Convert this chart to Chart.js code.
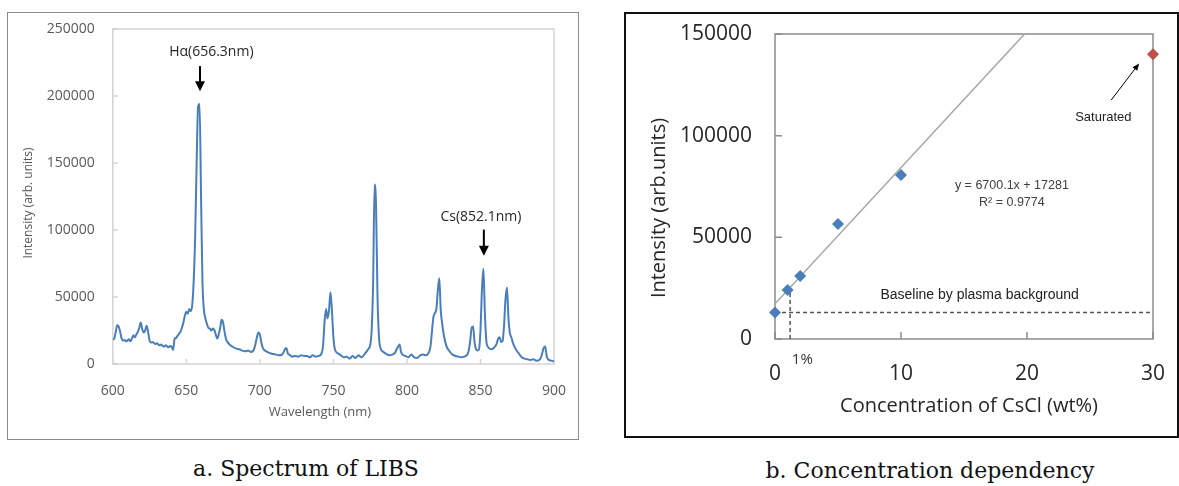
<!DOCTYPE html>
<html>
<head>
<meta charset="utf-8">
<script src="https://cdn.jsdelivr.net/npm/chart.js@4.4.0/dist/chart.umd.min.js"></script>
<style>
  html, body { margin: 0; padding: 0; background: #fff; }
  body { width: 1179px; height: 486px; position: relative; overflow: hidden; }
  .frame { position: absolute; box-sizing: border-box; }
  #frameA { left: 7px; top: 12px; width: 572px; height: 428px; border: 1px solid #8a8a8a; }
  #frameB { left: 624px; top: 12px; width: 555px; height: 426px; border: 2px solid #111; }
  canvas { position: absolute; top: 0; }
  #spec { left: 0; }
  #conc { left: 600px; }
  .caption { position: absolute; font-family: "DejaVu Serif", serif; font-size: 22px; line-height: 22px; color: #111; white-space: nowrap; transform: translateX(-50%); }
</style>
</head>
<body>
<div class="frame" id="frameA"></div>
<div class="frame" id="frameB"></div>
<canvas id="spec" width="590" height="450"></canvas>
<canvas id="conc" width="579" height="450"></canvas>
<div class="caption" style="left:306px; top:458px">a. Spectrum of LIBS</div>
<div class="caption" style="left:930px; top:460px">b. Concentration dependency</div>
<script>
// a. LIBS spectrum
const wavelength = [
  600, 601, 602, 603, 604, 605, 606, 607, 608, 609,
  610, 611, 612, 613, 614, 615, 616, 617, 618, 619,
  620, 621, 622, 623, 624, 625, 626, 627, 628, 629,
  630, 631, 632, 633, 634, 635, 636, 637, 638, 639,
  640, 641, 642, 643, 644, 645, 646, 647, 648, 649,
  650, 651, 652, 653, 654, 655, 656, 657, 658, 659,
  660, 661, 662, 663, 664, 665, 666, 667, 668, 669,
  670, 671, 672, 673, 674, 675, 676, 677, 678, 679,
  680, 682, 684, 686, 688, 690, 692, 694, 696, 697,
  698, 699, 700, 701, 702, 703, 705, 707, 709, 711,
  713, 715, 716, 717, 718, 719, 720, 722, 724, 726,
  728, 730, 732, 734, 736, 738, 740, 742, 743, 744,
  745, 746, 747, 748, 749, 750, 751, 753, 755, 757,
  759, 761, 763, 765, 767, 769, 771, 772, 773, 774,
  775, 776, 777, 778, 779, 780, 781, 782, 784, 786,
  788, 790, 792, 793, 794, 795, 796, 797, 799, 801,
  803, 805, 807, 809, 811, 813, 815, 816, 817, 818,
  819, 820, 821, 822, 823, 824, 825, 827, 829, 831,
  833, 835, 837, 839, 841, 842, 843, 844, 845, 846,
  847, 848, 849, 850, 851, 852, 853, 854, 855, 857,
  859, 861, 862, 863, 864, 865, 866, 867, 868, 869,
  870, 871, 872, 874, 876, 878, 880, 882, 884, 886,
  888, 890, 891, 892, 893, 894, 895, 896, 898, 900
]
const intensity = [
  18500, 19000, 24000, 29000, 28000, 24000, 19000, 17500, 18000, 17000,
  17500, 18500, 17000, 19000, 21500, 20000, 22000, 24000, 27000, 31000,
  26000, 23500, 25000, 28500, 24000, 17500, 16000, 16500, 15500, 15000,
  15500, 14500, 14000, 14500, 13500, 13000, 14000, 13000, 12500, 13500,
  13000, 10500, 18500, 19500, 21000, 22500, 24000, 27000, 31000, 36000,
  39000, 37500, 41000, 39500, 44000, 62000, 95000, 150000, 192000, 194000,
  125000, 60000, 40000, 34000, 30000, 27000, 26500, 25000, 26500, 25500,
  22000, 19000, 22000, 27000, 33000, 31000, 24000, 18500, 16500, 15000,
  14000, 12500, 11500, 11000, 10000, 9500, 10000, 9000, 11000, 15000,
  20000, 23500, 22000, 16000, 12000, 10500, 9000, 8000, 7500, 7000,
  6500, 7000, 8500, 11000, 12000, 8000, 7000, 5500, 6000, 5500,
  6500, 6000, 6000, 5000, 6500, 5500, 6000, 8000, 14000, 32000,
  41000, 34000, 40000, 53500, 40000, 20000, 11000, 8000, 6500, 5000,
  5500, 4000, 6000, 4500, 6500, 5000, 7000, 8500, 10000, 11500,
  14000, 25000, 60000, 134000, 118000, 50000, 20000, 12000, 9000, 7500,
  6500, 7000, 8500, 11000, 13000, 14500, 9000, 7000, 6000, 5000,
  7000, 5000, 4500, 6500, 7000, 6500, 9000, 13000, 24000, 35000,
  38000, 41000, 55000, 64000, 40000, 30000, 22000, 13000, 9500, 7000,
  6000, 5500, 5000, 5500, 7000, 10000, 17000, 27000, 28000, 16000,
  11000, 10000, 11000, 25000, 55000, 71000, 38000, 17000, 13000, 11000,
  12000, 15000, 19000, 20000, 16500, 17000, 28000, 48000, 57000, 35000,
  23000, 20000, 16000, 11000, 8000, 5000, 4000, 3500, 3000, 3500,
  2500, 3000, 4500, 8000, 12000, 13000, 6000, 3500, 2500, 2000
]
const specXTicks = [600, 650, 700, 750, 800, 850, 900]
const specYTicks = [0, 50000, 100000, 150000, 200000, 250000]

// b. concentration dependency
const concentration = [0, 1, 2, 5, 10]
const concIntensity = [13000, 24100, 31000, 56600, 80700]
const saturatedConc = [30]
const saturatedIntensity = [140000]
const concXTicks = [0, 10, 20, 30]
const concYTicks = [0, 50000, 100000, 150000]
const fitSlope = 6700.1
const fitIntercept = 17281
const fitR2 = 0.9774
const baselineLevel = 13000
const onePercentX = 1.2 // guide sits a little right of the 1% point in the original

const sans = '"Open Sans", "Noto Sans", sans-serif'
const arial = '"Liberation Sans", Arial, sans-serif'
Chart.defaults.font.family = sans
Chart.defaults.animation = false

function text(ctx, str, x, y, font, color, rot) {
  ctx.save()
  ctx.translate(x, y)
  if (rot) ctx.rotate(rot)
  ctx.font = font
  ctx.fillStyle = color
  ctx.textAlign = 'center'
  ctx.textBaseline = 'middle'
  ctx.fillText(str, 0, 0)
  ctx.restore()
}

function arrow(ctx, x1, y1, x2, y2, lw, len, half) {
  const ang = Math.atan2(y2 - y1, x2 - x1)
  ctx.save()
  ctx.strokeStyle = '#000'
  ctx.fillStyle = '#000'
  ctx.lineWidth = lw
  ctx.beginPath()
  ctx.moveTo(x1, y1)
  ctx.lineTo(x2 - Math.cos(ang) * len * 0.8, y2 - Math.sin(ang) * len * 0.8)
  ctx.stroke()
  ctx.translate(x2, y2)
  ctx.rotate(ang)
  ctx.beginPath()
  ctx.moveTo(0, 0)
  ctx.lineTo(-len, -half)
  ctx.lineTo(-len, half)
  ctx.closePath()
  ctx.fill()
  ctx.restore()
}

// plot-area box with short ticks pointing inwards
function frameTicks(color, width, len) {
  return {
    id: 'frameTicks',
    beforeDatasetsDraw(chart) {
      const {ctx, chartArea: a, scales} = chart
      ctx.save()
      ctx.strokeStyle = color
      ctx.lineWidth = width
      ctx.strokeRect(a.left, a.top, a.right - a.left, a.bottom - a.top)
      ctx.beginPath()
      scales.x.ticks.forEach(t => {
        const px = scales.x.getPixelForValue(t.value)
        ctx.moveTo(px, a.bottom)
        ctx.lineTo(px, a.bottom - len)
      })
      scales.y.ticks.forEach(t => {
        const py = scales.y.getPixelForValue(t.value)
        ctx.moveTo(a.left, py)
        ctx.lineTo(a.left + len, py)
      })
      ctx.stroke()
      ctx.restore()
    }
  }
}

const specNotes = {
  id: 'specNotes',
  afterDatasetsDraw(chart) {
    const {ctx} = chart
    const {x, y} = chart.scales
    text(ctx, 'Hα(656.3nm)', x.getPixelForValue(667), y.getPixelForValue(232800), '14px ' + sans, '#262626')
    arrow(ctx, x.getPixelForValue(659.3), y.getPixelForValue(222300), x.getPixelForValue(659.3), y.getPixelForValue(203600), 2, 10, 5)
    text(ctx, 'Cs(852.1nm)', x.getPixelForValue(850.3), y.getPixelForValue(110000), '14px ' + sans, '#262626')
    arrow(ctx, x.getPixelForValue(852.3), y.getPixelForValue(100300), x.getPixelForValue(852.3), y.getPixelForValue(80800), 2, 10, 5)
    text(ctx, 'Intensity (arb. units)', 29, 203, '12px ' + sans, '#595959', -Math.PI / 2)
    text(ctx, 'Wavelength (nm)', 320, 412, '13px ' + sans, '#595959')
  }
}

const concNotes = {
  id: 'concNotes',
  afterDatasetsDraw(chart) {
    const {ctx} = chart
    const {x, y} = chart.scales
    text(ctx, 'Saturated', x.getPixelForValue(26.06), y.getPixelForValue(109200), '13px ' + arial, '#222')
    arrow(ctx, x.getPixelForValue(26.68), y.getPixelForValue(117500), x.getPixelForValue(28.9), y.getPixelForValue(135500), 1, 7, 3)
    text(ctx, 'y = ' + fitSlope + 'x + ' + fitIntercept, x.getPixelForValue(18.8), y.getPixelForValue(75700), '12.5px ' + arial, '#404040')
    text(ctx, 'R² = ' + fitR2, x.getPixelForValue(18.8), y.getPixelForValue(66900), '12.5px ' + arial, '#404040')
    text(ctx, 'Baseline by plasma background', x.getPixelForValue(16.24), y.getPixelForValue(21600), '14px ' + arial, '#222')
    text(ctx, '1%', x.getPixelForValue(2.17), y.getPixelForValue(-10300), '15px ' + sans, '#333')
    text(ctx, 'Intensity (arb.units)', 59, 208, '20px ' + sans, '#262626', -Math.PI / 2)
    text(ctx, 'Concentration of CsCl (wt%)', 369, 406, '20px ' + sans, '#262626')
  }
}

function axis(min, max, ticks, size, pad, color, fit) {
  return {
    type: 'linear', min: min, max: max,
    afterBuildTicks: s => { s.ticks = ticks.map(v => ({value: v})) },
    afterFit: fit,
    grid: {display: false},
    border: {display: false},
    ticks: {padding: pad, color: color, font: {size: size}, autoSkip: false, maxRotation: 0, callback: v => String(v)}
  }
}

new Chart(document.getElementById('spec'), {
  type: 'scatter',
  data: {
    datasets: [{
      data: wavelength.map((w, i) => ({x: w, y: intensity[i]})),
      showLine: true,
      borderColor: '#4a7ebb',
      borderWidth: 2,
      pointRadius: 0,
      cubicInterpolationMode: 'monotone'
    }]
  },
  options: {
    responsive: false,
    layout: {padding: {left: 12.8, right: 36, top: 29, bottom: 26}},
    plugins: {legend: {display: false}, tooltip: {enabled: false}},
    scales: {
      x: axis(600, 900, specXTicks, 14, 11, '#595959', s => { s.height = 60 }),
      y: axis(0, 250000, specYTicks, 14, 10, '#595959', s => { s.width = 100 })
    }
  },
  plugins: [frameTicks('#d4d4d4', 1.5, 5), specNotes]
})

new Chart(document.getElementById('conc'), {
  type: 'scatter',
  data: {
    datasets: [
      {
        data: concentration.map((c, i) => ({x: c, y: concIntensity[i]})),
        pointStyle: 'rectRot', pointRadius: 6,
        backgroundColor: '#4a7ebb', borderColor: '#4a7ebb', borderWidth: 0,
        clip: false
      },
      {
        data: saturatedConc.map((c, i) => ({x: c, y: saturatedIntensity[i]})),
        pointStyle: 'rectRot', pointRadius: 6,
        backgroundColor: '#c0504d', borderColor: '#c0504d', borderWidth: 0,
        clip: false
      },
      {
        data: [{x: 0, y: fitIntercept}, {x: 30, y: fitSlope * 30 + fitIntercept}],
        showLine: true, borderColor: '#a6a6a6', borderWidth: 1.5, pointRadius: 0
      },
      {
        data: [{x: 0, y: baselineLevel}, {x: 30, y: baselineLevel}],
        showLine: true, borderColor: '#555', borderWidth: 1.5, borderDash: [4, 3], pointRadius: 0
      },
      {
        data: [{x: onePercentX, y: 0}, {x: onePercentX, y: concIntensity[1]}],
        showLine: true, borderColor: '#555', borderWidth: 1.5, borderDash: [4, 3], pointRadius: 0
      }
    ]
  },
  options: {
    responsive: false,
    layout: {padding: {left: 75, right: 16, top: 34, bottom: 51}},
    plugins: {legend: {display: false}, tooltip: {enabled: false}},
    scales: {
      x: axis(0, 30, concXTicks, 21, 14, '#262626', s => { s.height = 60 }),
      y: axis(0, 150000, concYTicks, 21, 15, '#262626', s => { s.width = 100 })
    }
  },
  plugins: [frameTicks('#8c8c8c', 1.5, 7), concNotes]
})
</script>
</body>
</html>
